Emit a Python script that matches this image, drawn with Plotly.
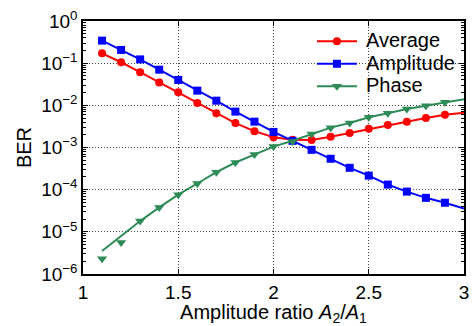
import plotly.graph_objects as go

# marker (simulated) points
x_pts = [1.1, 1.2, 1.3, 1.4, 1.5, 1.6, 1.7, 1.8, 1.9, 2.0, 2.1, 2.2, 2.3, 2.4, 2.5, 2.6, 2.7, 2.8, 2.9]
avg_pts = [0.171, 0.105, 0.061, 0.035, 0.0204, 0.0114, 0.0065, 0.0038, 0.00244, 0.00175, 0.00152, 0.0015,
           0.0018, 0.0022, 0.0028, 0.0034, 0.0041, 0.0050, 0.0060]
amp_pts = [0.342, 0.206, 0.123, 0.070, 0.040, 0.0223, 0.0129, 0.0071, 0.0041, 0.00234, 0.00144, 0.00088,
           0.00054, 0.00033, 0.000215, 0.000132, 0.000090, 0.000064, 0.000049]
pha_pts = [2.3e-6, 5.6e-6, 1.8e-5, 3.8e-5, 7.6e-5, 1.4e-4, 2.6e-4, 4.4e-4, 6.8e-4, 1.05e-3, 1.38e-3, 2.1e-3,
           2.96e-3, 3.8e-3, 5.2e-3, 6.5e-3, 8.2e-3, 9.8e-3, 0.0118]

# analytic curves
x_curve = [1.1, 1.2, 1.3, 1.4, 1.5, 1.6, 1.7, 1.8, 1.9, 2.0, 2.1, 2.2, 2.3, 2.4, 2.5, 2.6, 2.7, 2.8, 2.9, 3.0]
avg_curve = [0.171, 0.105, 0.061, 0.035, 0.0204, 0.0114, 0.0065, 0.0038, 0.00244, 0.00175, 0.00152, 0.0015,
             0.0018, 0.0022, 0.0028, 0.0034, 0.0041, 0.0050, 0.0060, 0.0067]
amp_curve = [0.342, 0.206, 0.123, 0.070, 0.040, 0.0223, 0.0129, 0.0071, 0.0041, 0.00234, 0.00144, 0.00088,
             0.00054, 0.00033, 0.000215, 0.000132, 0.000090, 0.000064, 0.000049, 0.0000356]
pha_curve = [3.5e-6, 8.0e-6, 1.8e-5, 3.8e-5, 7.6e-5, 1.4e-4, 2.6e-4, 4.4e-4, 6.8e-4, 1.05e-3, 1.45e-3, 2.1e-3,
             2.96e-3, 3.8e-3, 5.2e-3, 6.5e-3, 8.2e-3, 9.8e-3, 0.0118, 0.014]

series_names = ["Average", "Amplitude", "Phase"]
series_colors = ["#ff0000", "#0000ff", "#2e8b57"]
series_symbols = ["circle", "square", "triangle-down"]
series_curves = [avg_curve, amp_curve, pha_curve]
series_points = [avg_pts, amp_pts, pha_pts]

y_tickvals = [1e-6, 1e-5, 1e-4, 1e-3, 1e-2, 1e-1, 1e0]
y_ticktext = ["10<sup>\u22126</sup>", "10<sup>\u22125</sup>", "10<sup>\u22124</sup>", "10<sup>\u22123</sup>",
              "10<sup>\u22122</sup>", "10<sup>\u22121</sup>", "10<sup>0</sup>"]
x_tickvals = [1, 1.5, 2, 2.5, 3]
x_ticktext = ["1", "1.5", "2", "2.5", "3"]

minor_vals = [m * 10 ** e for e in range(-6, 0) for m in range(2, 10)]

fig = go.Figure()
for name, curve, pts, color, sym in zip(series_names, series_curves, series_points, series_colors, series_symbols):
    fig.add_trace(go.Scatter(x=x_curve, y=curve, mode="lines", line=dict(color=color, width=2),
                             showlegend=False, hoverinfo="skip"))
    fig.add_trace(go.Scatter(x=x_pts, y=pts, mode="markers",
                             marker=dict(color=color, symbol=sym, size=8 if sym != "triangle-down" else 9,
                                         line=dict(width=0)),
                             showlegend=False))
for name, color, sym in zip(series_names, series_colors, series_symbols):
    fig.add_trace(go.Scatter(x=[None], y=[None], mode="lines+markers",
                             name='<span style="font-size:20px">\u2009' + name + '</span>',
                             line=dict(color=color, width=2),
                             marker=dict(color=color, symbol=sym, size=8 if sym != "triangle-down" else 9,
                                         line=dict(width=0))))

# white legend background box
fig.add_shape(type="rect", xref="paper", yref="paper", x0=0.596, x1=0.997, y0=0.69, y1=0.984,
              fillcolor="white", line=dict(width=0), layer="below")

font_family = "Liberation Sans, Arial, Helvetica, sans-serif"
grid_dash = "1px,2px"
fig.update_layout(
    template="none",
    width=473, height=326,
    margin=dict(l=83, r=9, t=21, b=52, autoexpand=False),
    paper_bgcolor="white", plot_bgcolor="white",
    font=dict(family=font_family, size=19, color="black"),
    legend=dict(xref="container", yref="container", x=0.6595, y=0.9233, xanchor="left", yanchor="top",
                bgcolor="rgba(0,0,0,0)", borderwidth=0,
                font=dict(size=15), tracegroupgap=0, itemwidth=40),
    xaxis=dict(range=[1, 3], tickvals=x_tickvals, ticktext=x_ticktext, automargin=False,
               ticks="inside", ticklen=5, tickcolor="black",
               showline=True, linecolor="black", linewidth=1.5, mirror="ticks",
               showgrid=True, gridcolor="#444", griddash=grid_dash, gridwidth=1,
               zeroline=False,
               title=dict(text="Amplitude ratio <i>A</i><sub>2</sub>/<i>A</i><sub>1</sub>",
                          font=dict(size=20), standoff=0)),
    yaxis=dict(type="log", range=[-6, 0], tickvals=y_tickvals, ticktext=y_ticktext, automargin=False,
               ticks="inside", ticklen=5, tickcolor="black",
               minor=dict(tickvals=minor_vals, ticks="inside", ticklen=3, tickcolor="black", showgrid=False),
               showline=True, linecolor="black", linewidth=1.5, mirror="ticks",
               showgrid=True, gridcolor="#444", griddash=grid_dash, gridwidth=1,
               zeroline=False,
               title=dict(text="BER", font=dict(size=20), standoff=4)),
)

fig.write_html("out.html", config={"displayModeBar": False},
               post_script="document.body.style.margin='0px';")
